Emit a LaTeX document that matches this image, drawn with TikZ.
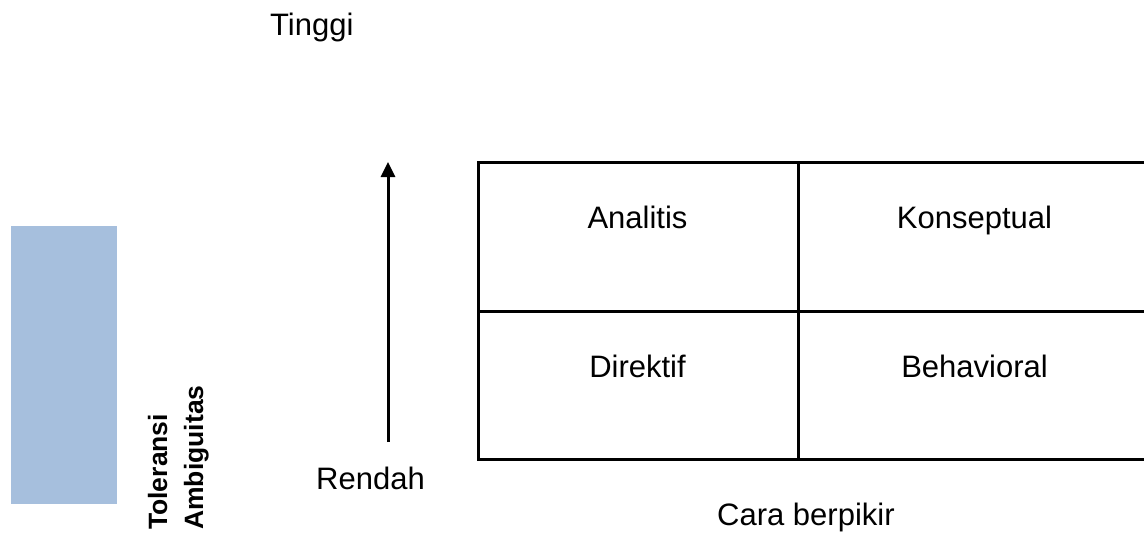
\documentclass[tikz,border=0pt]{standalone}
\usepackage{fontspec}
\setmainfont{Liberation Sans}
\usetikzlibrary{arrows.meta}
\definecolor{barblue}{RGB}{166,191,221}
\begin{document}
\begin{tikzpicture}[x=1pt,y=-1pt,
  lbl/.style={inner sep=0pt, font=\fontsize{31}{36}\selectfont, anchor=base},
  cell/.style={lbl},
  rlbl/.style={inner sep=0pt, font=\fontsize{26.5}{32}\selectfont\bfseries, rotate=90, anchor=base west},
  grid/.style={line width=3pt, line cap=rect},
  axis/.style={line width=3pt, -{Triangle[length=15pt,width=14pt]}}]
\useasboundingbox (0,0) rectangle (1144,533);
\clip (0,0) rectangle (1144,533);
% blue bar
\fill[barblue] (11,226) rectangle (117,504);
% rotated labels
\node[rlbl] (tol) at (167,530) {Toleransi};
\node[rlbl] (amb) at (203,530) {Ambiguitas};
% axis labels
\node[lbl, anchor=base west] (tinggi) at (270,35) {Tinggi};
\node[lbl, anchor=base west] (rendah) at (316,489) {Rendah};
\node[lbl, anchor=base west] (cara) at (717,525) {Cara berpikir};
% arrow
\coordinate (ab) at (388,442);
\coordinate (at) at (388,162);
\draw[axis] (ab) -- (at);
% table
\coordinate (tl) at (478,162);
\coordinate (ml) at (478,311);
\coordinate (bl) at (478,459);
\coordinate (tm) at (798.5,162);
\coordinate (bm) at (798.5,459);
\draw[grid] (1160,162) -- (tl) -- (bl) -- (1160,459);
\draw[grid] (ml) -- (1160,311);
\draw[grid] (tm) -- (bm);
% cell labels
\node[cell] (analitis) at (637.5,228) {Analitis};
\node[cell] (konseptual) at (974.5,228) {Konseptual};
\node[cell] (direktif) at (637.5,377) {Direktif};
\node[cell] (behavioral) at (974.5,377) {Behavioral};
\end{tikzpicture}
\end{document}
